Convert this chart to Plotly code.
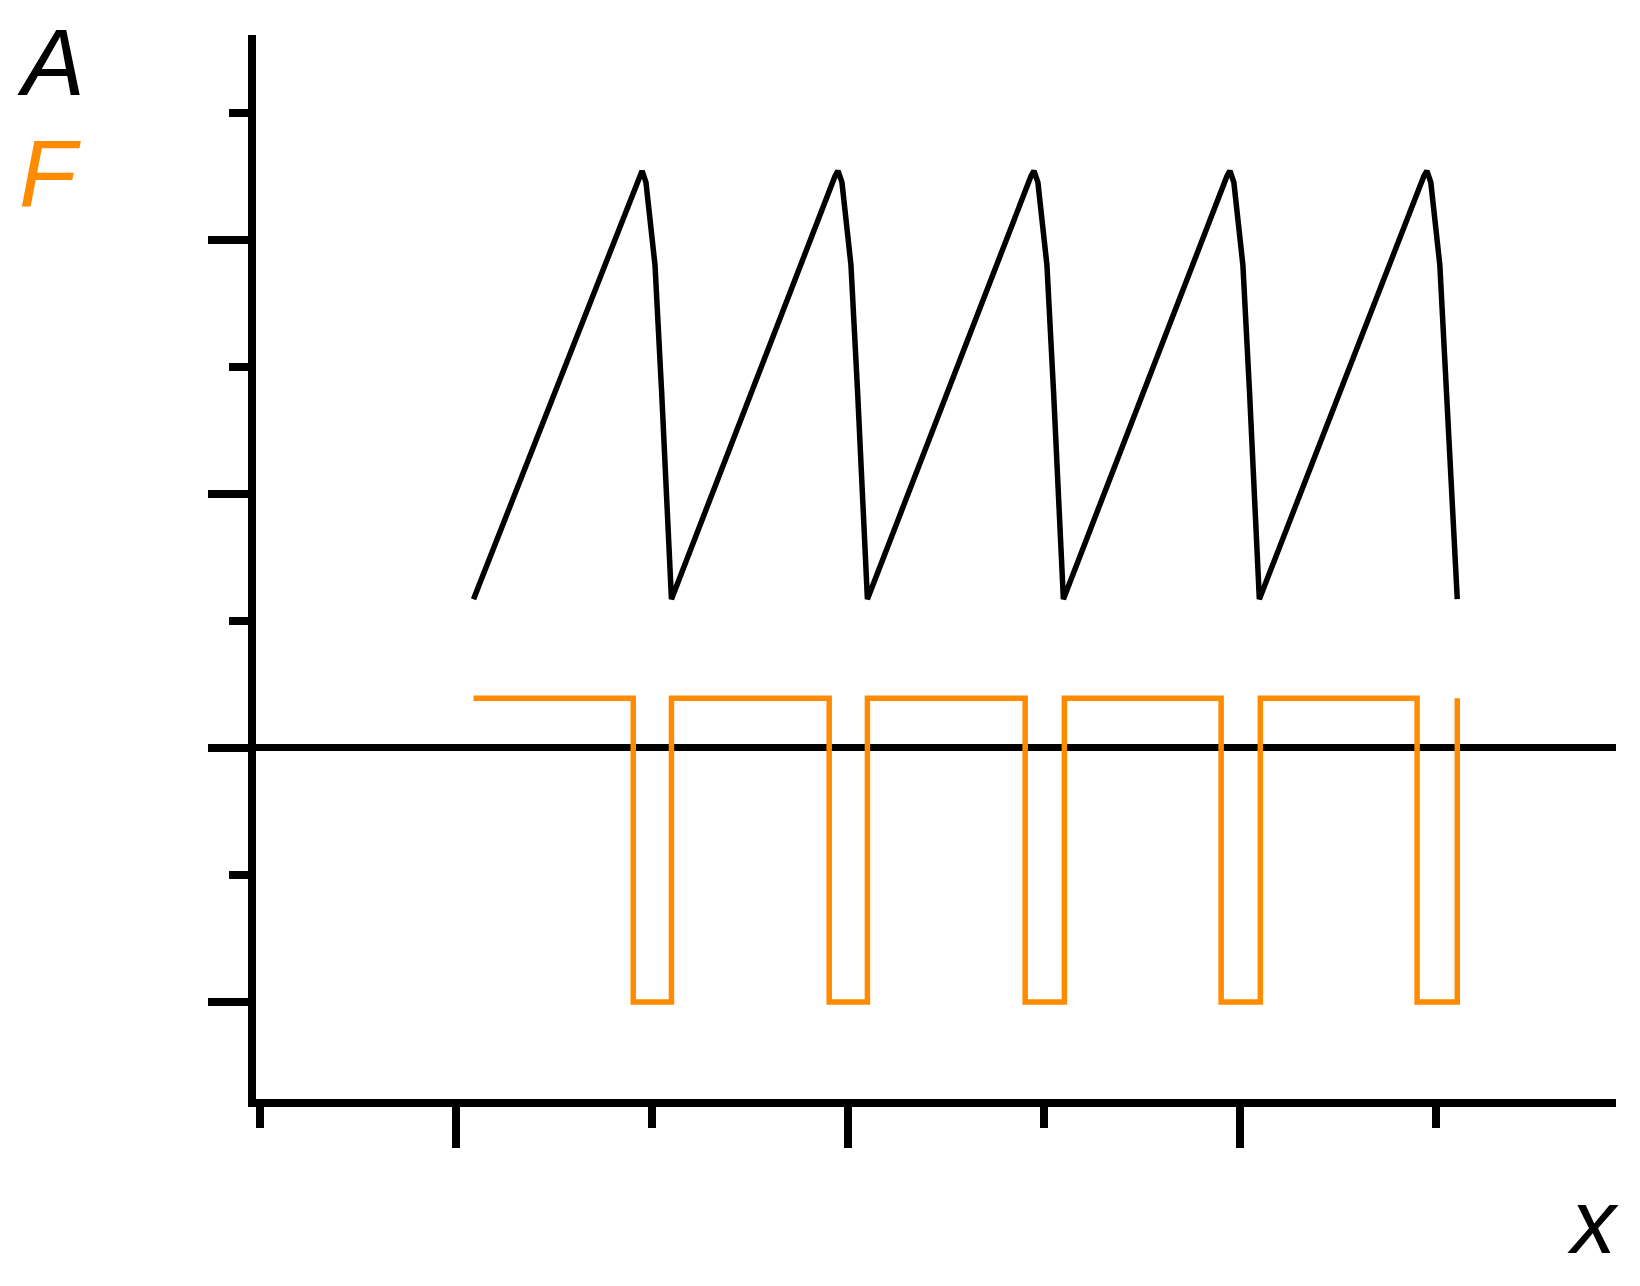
import plotly.graph_objects as go

# --- Data ---
# black sawtooth A(x)
saw_x = [1.09, 1.935, 1.95, 1.97, 1.99, 2.016, 2.05, 2.08, 2.10,
         2.935, 2.95, 2.97, 2.99, 3.016, 3.05, 3.08, 3.10,
         3.935, 3.95, 3.97, 3.99, 4.016, 4.05, 4.08, 4.10,
         4.935, 4.95, 4.97, 4.99, 5.016, 5.05, 5.08, 5.10,
         5.94, 5.955, 5.975, 5.995, 6.021, 6.055, 6.085, 6.11]
saw_y = [1.17, 4.50, 4.54, 4.45, 4.20, 3.80, 2.80, 1.90, 1.17,
         4.50, 4.54, 4.45, 4.20, 3.80, 2.80, 1.90, 1.17,
         4.50, 4.54, 4.45, 4.20, 3.80, 2.80, 1.90, 1.17,
         4.50, 4.54, 4.45, 4.20, 3.80, 2.80, 1.90, 1.17,
         4.50, 4.54, 4.45, 4.20, 3.80, 2.80, 1.90, 1.17]

# orange square wave F(x), drawn as steps
sq_x = [1.09, 1.905, 2.10, 2.905, 3.10, 3.905, 4.105, 4.905, 5.105, 5.905, 6.11]
sq_y = [0.39, -2.0, 0.39, -2.0, 0.39, -2.0, 0.39, -2.0, 0.39, -2.0, 0.39]

orange = "#FF8C00"

fig = go.Figure()
fig.add_trace(go.Scatter(x=sq_x, y=sq_y, mode="lines", line_shape="hv",
                         line=dict(color=orange, width=5.5), hoverinfo="skip"))
fig.add_trace(go.Scatter(x=saw_x, y=saw_y, mode="lines",
                         line=dict(color="black", width=5.5), hoverinfo="skip"))

# --- Axes ---
fig.update_xaxes(
    range=[-0.02, 6.92], showgrid=False, zeroline=False,
    showline=True, linecolor="black", linewidth=8,
    tickmode="linear", tick0=1, dtick=2, ticks="outside",
    ticklen=41, tickwidth=8, tickcolor="black", showticklabels=False,
    minor=dict(tickmode="linear", tick0=0, dtick=1, ticks="outside",
               ticklen=21, tickwidth=8, tickcolor="black", showgrid=False),
)
fig.update_yaxes(
    range=[-2.764, 5.61], showgrid=False,
    zeroline=True, zerolinecolor="black", zerolinewidth=7,
    showline=True, linecolor="black", linewidth=8,
    tickmode="linear", tick0=0, dtick=2, ticks="outside",
    ticklen=40, tickwidth=8, tickcolor="black", showticklabels=False,
    minor=dict(tickmode="linear", tick0=1, dtick=1, ticks="outside",
               ticklen=19, tickwidth=8, tickcolor="black", showgrid=False),
)

# axis labels (placed relative to the plot corners)
label_font = "Liberation Sans, Arial, sans-serif"
fig.add_annotation(text="<i>A</i>", xref="paper", yref="paper", x=0, y=1,
                   xanchor="left", yanchor="top", xshift=-241, yshift=27,
                   showarrow=False, font=dict(family=label_font, size=94, color="black"))
fig.add_annotation(text="<i>F</i>", xref="paper", yref="paper", x=0, y=1,
                   xanchor="left", yanchor="top", xshift=-239, yshift=-84,
                   showarrow=False, font=dict(family=label_font, size=94, color=orange))
fig.add_annotation(text="<i>x</i>", xref="paper", yref="paper", x=1, y=0,
                   xanchor="right", yanchor="bottom", xshift=5, yshift=-175,
                   showarrow=False, font=dict(family=label_font, size=90, color="black"))

# page body adds an 8px margin, so the figure is 8px smaller and margins shifted
fig.update_layout(
    width=1632, height=1278,
    margin=dict(l=248, r=24, t=27, b=187),
    plot_bgcolor="white", paper_bgcolor="white",
    showlegend=False,
)

fig.write_html("out.html")
